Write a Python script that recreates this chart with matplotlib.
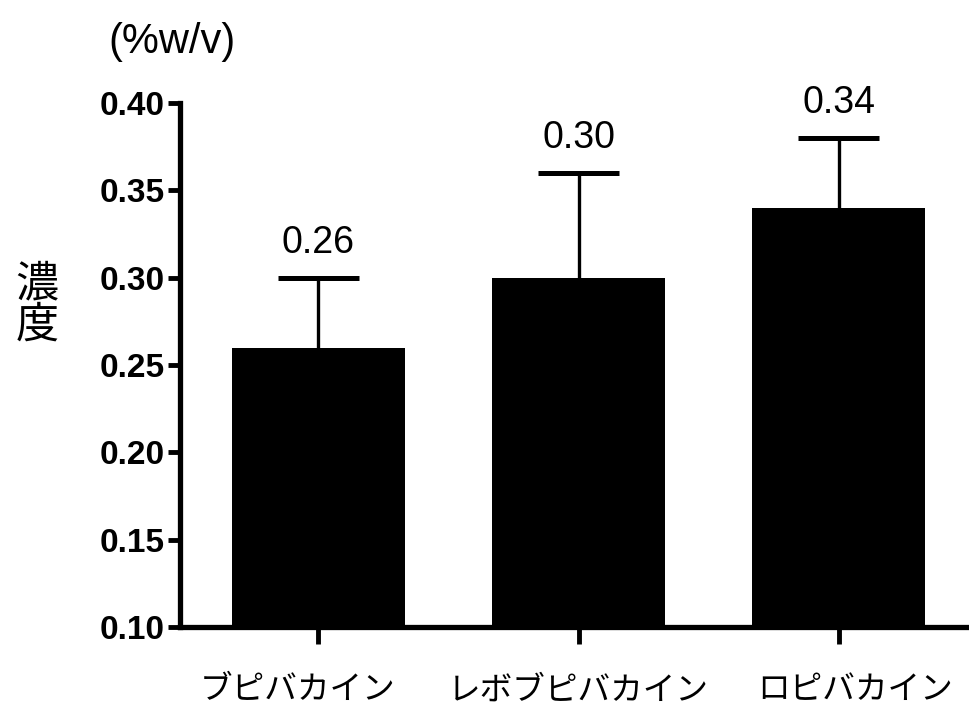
import matplotlib
matplotlib.use("Agg")
import matplotlib.pyplot as plt

plt.rcParams['font.family'] = ['Liberation Sans', 'Noto Sans CJK JP', 'DejaVu Sans']

# data
drugs = ["ブピバカイン", "レボブピバカイン", "ロピバカイン"]
means = [0.26, 0.30, 0.34]
errs = [0.04, 0.06, 0.04]
value_labels = ["0.26", "0.30", "0.34"]
yticks = [0.10, 0.15, 0.20, 0.25, 0.30, 0.35, 0.40]

fig = plt.figure(figsize=(9.69, 7.05), dpi=100)
ax = fig.add_axes([0.186, 0.1106, 0.814, 0.7434])

x = list(range(len(drugs)))
tops = [m + e for m, e in zip(means, errs)]
ax.bar(x, [m - 0.10 for m in means], bottom=0.10, width=0.665, color="black",
       zorder=2)
# upper error bars only
ax.vlines(x, means, tops, colors="black", linewidth=2.4, zorder=3)
ax.hlines(tops, [xi - 0.155 for xi in x], [xi + 0.155 for xi in x],
          colors="black", linewidth=3.6, zorder=3)

for xi, t, lab in zip(x, tops, value_labels):
    ax.annotate(lab, (xi, t), xytext=(0, 12), textcoords="offset points",
                ha="center", va="bottom", fontsize=27, annotation_clip=False)

ax.set_xlim(-0.53, 2.5)
ax.set_ylim(0.10, 0.40)
ax.set_yticks(yticks)
ax.set_yticklabels([f"{t:.2f}" for t in yticks], fontsize=24, fontweight="bold")
ax.set_xticks(x)
ax.set_xticklabels([])

# x labels are not exactly centred under their ticks in the original
shifts = [-15, 0, 12]
for xi, name, dx in zip(x, drugs, shifts):
    ax.annotate(name, (xi, 0), xycoords=ax.get_xaxis_transform(),
                xytext=(dx, -46), textcoords="offset points",
                ha="center", va="center", fontsize=23.5, annotation_clip=False)

for s in ["top", "right"]:
    ax.spines[s].set_visible(False)
for s in ["left", "bottom"]:
    ax.spines[s].set_linewidth(3.8)
ax.tick_params(axis="y", length=9, width=3.5, pad=2)
ax.tick_params(axis="x", length=12, width=3.5)

fig.text(0.177, 0.94, "(%w/v)", fontsize=30, ha="center", va="center")
fig.text(0.038, 0.566, "濃\n度", fontsize=31, ha="center", va="center",
         linespacing=1.05)

fig.savefig("out.png", dpi=100)
